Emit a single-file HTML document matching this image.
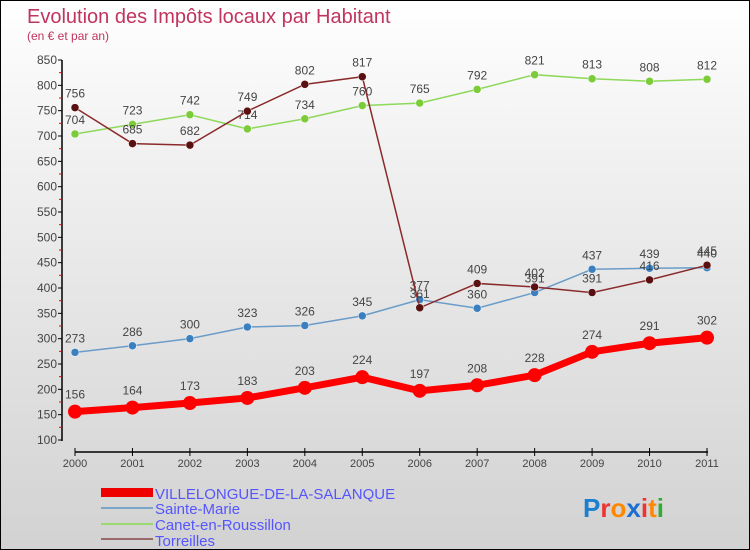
<!DOCTYPE html>
<html><head><meta charset="utf-8"><style>
body{margin:0;width:750px;height:550px;overflow:hidden;font-family:"Liberation Sans",sans-serif}
#wrap{position:relative;width:748px;height:548px;border:1px solid #000;background:linear-gradient(#fff 0%,#f0f0f0 30%,#d2d2d2 100%)}
</style></head><body>
<div id="wrap">
<svg id="c" width="748" height="548" style="position:absolute;left:0;top:0">
<text x="26" y="22" font-size="20" fill="#c0345f">Evolution des Impôts locaux par Habitant</text>
<text x="26" y="39" font-size="12" fill="#c0345f">(en € et par an)</text>
<g id="axes"></g><g id="series"></g>
<g>
<rect x="100" y="487" width="52" height="9" fill="#e00"/>
<text x="154" y="498" font-size="15" fill="#55f">VILLELONGUE-DE-LA-SALANQUE</text>
<rect x="100" y="506" width="52" height="2" fill="#7aa5c8"/>
<text x="154" y="513" font-size="15" fill="#55f">Sainte-Marie</text>
<rect x="100" y="522" width="52" height="2" fill="#9cd870"/>
<text x="154" y="529" font-size="15" fill="#55f">Canet-en-Roussillon</text>
<rect x="100" y="537" width="52" height="2" fill="#9a6a6a"/>
<text x="154" y="545" font-size="15" fill="#55f">Torreilles</text>
</g>
<text x="582" y="516" font-size="26" font-weight="bold"><tspan fill="#1a7fd0">P</tspan><tspan fill="#e33">r</tspan><tspan fill="#f80">o</tspan><tspan fill="#1a6fd0">x</tspan><tspan fill="#e33">i</tspan><tspan fill="#f80">t</tspan><tspan fill="#3a3">i</tspan></text>
</svg></div>
<script>
const years=[2000,2001,2002,2003,2004,2005,2006,2007,2008,2009,2010,2011];
const yTicks=[100,150,200,250,300,350,400,450,500,550,600,650,700,750,800,850];
const villelongue=[156,164,173,183,203,224,197,208,228,274,291,302];
const sainteMarie=[273,286,300,323,326,345,377,360,391,437,439,440];
const canet=[704,723,742,714,734,760,765,792,821,813,808,812];
const torreilles=[756,685,682,749,802,817,361,409,402,391,416,445];
const NS='http://www.w3.org/2000/svg';
const X=i=>74+i*(632/11);
const Y=v=>439-(v-100)*(380/750);
function mk(t,a,p){const e=document.createElementNS(NS,t);for(const k in a)e.setAttribute(k,a[k]);p.appendChild(e);return e;}
const ax=document.getElementById('axes');
let l=mk('line',{x1:61,y1:59,x2:61,y2:440,stroke:'#000','stroke-width':1.5},ax);


yTicks.forEach(v=>{
 const t=mk('line',{x1:57,x2:61,y1:Y(v),y2:Y(v),stroke:'#000'},ax);
 
 
 if(v<850){const m=mk('line',{x1:58,x2:61,y1:Y(v+25),y2:Y(v+25),stroke:'#e00'},ax);
 
 }
 const tx=mk('text',{x:56,y:Y(v)+4,'font-size':12,fill:'#444','text-anchor':'end'},ax);tx.textContent=v;
 
 
});
l=mk('line',{x1:74,y1:451,x2:707,y2:451,stroke:'#000','stroke-width':1.5},ax);


years.forEach((y,i)=>{
 const t=mk('line',{x1:X(i),x2:X(i),y1:447,y2:455,stroke:'#000'},ax);
 
 
 const tx=mk('text',{x:X(i),y:466,'font-size':11,fill:'#444','text-anchor':'middle'},ax);tx.textContent=y;
 
 
});
const sg=document.getElementById('series');
function series(d,name,col,pcol,w,r){
 const g=mk('g',{},sg);
 
 
 const p=mk('polyline',{points:d.map((v,i)=>X(i)+','+Y(v)).join(' '),fill:'none',stroke:col,'stroke-width':w},g);
 
 
 d.forEach((v,i)=>{
  const c=mk('circle',{cx:X(i),cy:Y(v),r:r,fill:pcol,stroke:w>3?pcol:'#fff','stroke-width':w>3?0:0.5},g);
  
  
  const t=mk('text',{x:X(i),y:Y(v)-(w>3?13:10),'font-size':12,fill:'#444','text-anchor':'middle'},g);t.textContent=v;
  
  
 });
}
series(canet,'canet','#8ed85a','#7ccc3a',1.5,4);
series(sainteMarie,'sainte-marie','#6a9cc8','#3a80c0',1.5,4);
series(torreilles,'torreilles','#8a2a2a','#5a1010',1.5,4);
series(villelongue,'villelongue','#f00','#f00',7,7);
</script>
</body></html>
